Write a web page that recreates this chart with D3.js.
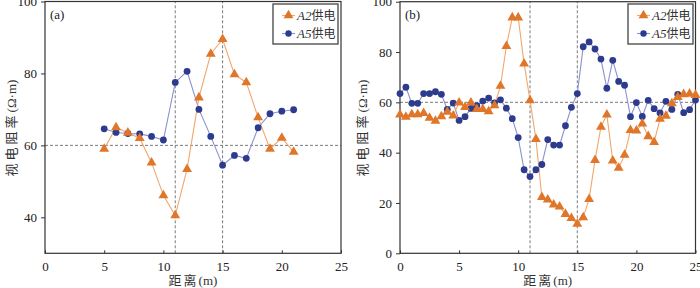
<!DOCTYPE html>
<html><head><meta charset="utf-8">
<script src="https://cdn.jsdelivr.net/npm/d3@7"></script>
<style>
html,body{margin:0;padding:0;background:#fff;}
svg{display:block;}
text{font-family:"Liberation Serif","Times New Roman",serif;}
.cjk{font-family:"Noto Sans CJK SC","Liberation Serif",serif;}
</style></head><body>
<svg id="chart" width="700" height="288"></svg>
<script>
// Panel (a)
const aX = [5,6,7,8,9,10,11,12,13,14,15,16,17,18,19,20,21];
const aA2 = [59,65,63.5,62,55.2,46.1,40.5,53.4,73.3,85.4,89.5,79.7,77.5,67.8,59,62.1,58.2];
const aA5 = [64.6,63.6,63.3,63.2,62.5,61.5,77.5,80.6,70,62.5,54.5,57.2,56.4,64.9,68.8,69.5,69.9];
// Panel (b)
const bX = d3.range(0, 25.01, 0.5);
const bA2 = [55.1,54.2,55.2,55.2,55.7,53.8,52.6,54.4,56.2,54.7,59.9,58.1,59.9,57.3,57.3,56.4,58.8,66.5,82.3,93.7,93.7,75.4,60.8,45.4,22.3,21.3,19.3,18.5,15.6,14,11.7,14.3,21.5,37,50.2,55.1,36.8,33.9,39.1,48.9,48.7,51.5,46.5,44.2,53.4,54.6,59.6,62.1,63.2,63.4,62.9];
const bA5 = [63.5,66,59.6,59.6,63.5,63.5,64.2,63.2,57.2,59.7,52.8,54.3,57.6,58.7,60.5,61.7,59.8,61,57.7,53.5,46,33.2,30.5,33.2,35.3,45.2,43,43,50.7,58,63.5,82.1,84,81.2,77.2,65.6,76.7,68.3,66.8,54.3,59.9,54.4,60.8,57.5,55.8,60.4,57.2,63.2,55.9,57.1,60.9];
const xTicks = [0,5,10,15,20,25];
const aYTicks = [40,60,80,100];
const bYTicks = [0,20,40,60,80,100];
const seriesNames = ["A2", "A5"];
const refX = [11,15];
const refY = 60;

const C = {
  a2Line:"#f3a66b", a2Mark:"#e0762a",
  a5Line:"#8b90cf", a5Mark:"#2c3b8e",
  frame:"#333", grid:"#7a7a7a"
};

const svg = d3.select("#chart");

function panel(opt){
  const x = d3.scaleLinear().domain([0,25]).range(opt.xr);
  const y = d3.scaleLinear().domain(opt.yd).range([253.3, opt.yTop]);
  const g = svg.append("g");

  refX.forEach(v=>{
    g.append("line").attr("x1",x(v)).attr("x2",x(v)).attr("y1",y.range()[0]).attr("y2",y.range()[1])
      .attr("stroke",C.grid).attr("stroke-width",1).attr("stroke-dasharray","3,2");
  });
  g.append("line").attr("x1",x.range()[0]).attr("x2",x.range()[1]).attr("y1",y(refY)).attr("y2",y(refY))
    .attr("stroke",C.grid).attr("stroke-width",1).attr("stroke-dasharray","3,2");

  const xa = d3.axisBottom(x).tickValues(xTicks).tickSizeInner(-3).tickSizeOuter(0).tickPadding(8);
  const gx = g.append("g").attr("transform",`translate(0,${y.range()[0]})`).call(xa);
  gx.select(".domain").remove();
  gx.selectAll("line").attr("stroke",C.frame);
  gx.selectAll("text").attr("font-size",13).attr("fill","#222").attr("font-family","Liberation Serif, serif");

  const ya = d3.axisLeft(y).tickValues(opt.yTicks).tickSizeInner(4).tickSizeOuter(0).tickPadding(4);
  const gy = g.append("g").attr("transform",`translate(${x.range()[0]},0)`).call(ya);
  gy.select(".domain").remove();
  gy.selectAll("line").attr("stroke",C.frame);
  gy.selectAll("text").attr("font-size",13).attr("fill","#222").attr("font-family","Liberation Serif, serif");

  g.append("rect").attr("x",x.range()[0]).attr("y",y.range()[1])
    .attr("width",x.range()[1]-x.range()[0]).attr("height",y.range()[0]-y.range()[1])
    .attr("fill","none").attr("stroke",C.frame).attr("stroke-width",1.2);

  const line = d3.line().x(d=>x(d[0])).y(d=>y(d[1]));
  const tri = d3.symbol().type(d3.symbolTriangle).size(42);

  const d5 = opt.xs.map((v,i)=>[v,opt.s5[i]]);
  const d2 = opt.xs.map((v,i)=>[v,opt.s2[i]]);
  g.append("path").datum(d5).attr("d",line).attr("fill","none").attr("stroke",C.a5Line).attr("stroke-width",1.1);
  g.append("path").datum(d2).attr("d",line).attr("fill","none").attr("stroke",C.a2Line).attr("stroke-width",1.1);
  g.selectAll(".c5").data(d5).enter().append("circle").attr("cx",d=>x(d[0])).attr("cy",d=>y(d[1]))
    .attr("r",3.4).attr("fill",C.a5Mark);
  g.selectAll(".t2").data(d2).enter().append("path").attr("d",tri)
    .attr("transform",d=>`translate(${x(d[0])},${y(d[1])})`).attr("fill",C.a2Mark);

  g.append("text").attr("x",x.range()[0]+5).attr("y",y.range()[1]+17).attr("font-size",13).attr("fill","#222").text(opt.label);

  const lx = opt.legX, ly = 4;
  g.append("rect").attr("x",lx).attr("y",ly).attr("width",65).attr("height",40)
    .attr("fill","#fff").attr("stroke","#444").attr("stroke-width",1.3);
  [[0,C.a2Line,C.a2Mark,"tri"],[1,C.a5Line,C.a5Mark,"circ"]].forEach(([i,lc,mc,shape])=>{
    const yy = ly + 11.5 + i*18;
    g.append("line").attr("x1",lx+9).attr("x2",lx+22).attr("y1",yy).attr("y2",yy).attr("stroke",lc).attr("stroke-width",1.1);
    if(shape==="tri"){
      g.append("path").attr("d",tri).attr("transform",`translate(${lx+15.5},${yy})`).attr("fill",mc);
    } else {
      g.append("circle").attr("cx",lx+15.5).attr("cy",yy).attr("r",3.2).attr("fill",mc);
    }
    const t = g.append("text").attr("x",lx+24).attr("y",yy+4.5).attr("font-size",13).attr("fill","#333");
    t.append("tspan").attr("font-style","italic").text(seriesNames[i]);
    t.append("tspan").attr("class","cjk").attr("font-size",12).text("供电");
  });

  const cx = (x.range()[0]+x.range()[1])/2;
  const xt = svg.append("text").attr("x",cx).attr("y",285).attr("text-anchor","middle")
    .attr("font-size",13).attr("fill","#333");
  xt.append("tspan").attr("class","cjk").attr("letter-spacing",2).text("距离");
  xt.append("tspan").text("(m)");
  const yt = svg.append("text").attr("transform",`translate(${opt.ylabX},128) rotate(-90)`)
    .attr("text-anchor","middle").attr("font-size",13).attr("fill","#333");
  yt.append("tspan").attr("class","cjk").attr("letter-spacing",3).text("视电阻率");
  yt.append("tspan").text("(Ω·m)");
}

panel({xr:[45,341], yd:[30,100], yTop:1.5, yTicks:aYTicks, xs:aX, s2:aA2, s5:aA5, label:"(a)", legX:273, ylabX:16});
panel({xr:[400,695.5], yd:[0,100], yTop:1.7, yTicks:bYTicks, xs:bX, s2:bA2, s5:bA5, label:"(b)", legX:628, ylabX:367});
</script>
</body></html>
